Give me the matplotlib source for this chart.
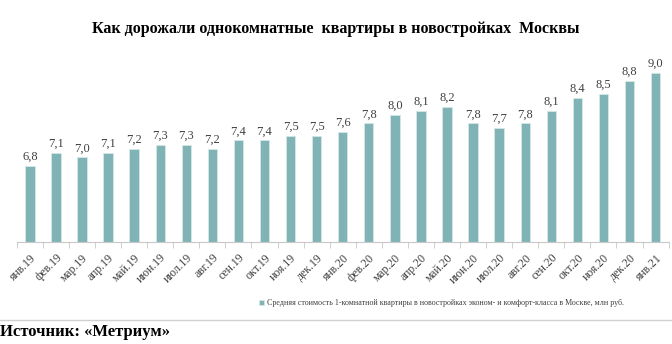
import matplotlib.pyplot as plt
import numpy as np

plt.rcParams['font.family'] = ['Liberation Serif', 'DejaVu Serif']

months = ["янв.19", "фев.19", "мар.19", "апр.19", "май.19", "июн.19", "июл.19",
          "авг.19", "сен.19", "окт.19", "ноя.19", "дек.19", "янв.20", "фев.20",
          "мар.20", "апр.20", "май.20", "июн.20", "июл.20", "авг.20", "сен.20",
          "окт.20", "ноя.20", "дек.20", "янв.21"]
prices = [6.8, 7.1, 7.0, 7.1, 7.2, 7.3, 7.3, 7.2, 7.4, 7.4, 7.5, 7.5, 7.6,
          7.8, 8.0, 8.1, 8.2, 7.8, 7.7, 7.8, 8.1, 8.4, 8.5, 8.8, 9.0]
series_name = ("Средняя стоимость 1-комнатной квартиры в новостройках "
               "эконом- и комфорт-класса в Москве, млн руб.")

fig = plt.figure(figsize=(6.72, 3.44), dpi=100)
ax = fig.add_axes([0.025, 0.2965, 0.97, 0.5255])

x = np.arange(len(months))
bars = ax.bar(x, prices, width=0.36, color="#7fb3b5", edgecolor="#d6e8e8",
              linewidth=0.6, label=series_name)
for xi, v in zip(x, prices):
    ax.text(xi, v + 0.07, f"{v:.1f}".replace(".", ","), ha="center",
            va="bottom", fontsize=9, color="#404040")

ax.set_ylim(5.0, 9.27)
ax.set_xlim(-0.5, len(months) - 0.5)
ax.set_yticks([])
for s in ["top", "right", "left"]:
    ax.spines[s].set_visible(False)
ax.spines["bottom"].set_color("#c8c8c8")
ax.set_xticks(x)
ax.set_xticklabels(months, rotation=45, ha="right", rotation_mode="anchor",
                   fontsize=8.5, color="#404040")
ax.tick_params(axis="x", which="major", length=0, pad=7)
ax.set_xticks(np.arange(-0.5, len(months), 1), minor=True)
ax.tick_params(axis="x", which="minor", length=4, color="#c8c8c8")

fig.text(0.5, 0.915, "Как дорожали однокомнатные  квартиры в новостройках  Москвы",
         ha="center", va="center", fontsize=11.5, fontweight="bold")

fig.legend(handles=[bars], labels=[series_name], loc="center",
           bbox_to_anchor=(0.657, 0.119), frameon=False, fontsize=5.8,
           handlelength=0.6, handleheight=0.6, handletextpad=0.4,
           labelcolor="#404040")

fig.add_artist(plt.Line2D([0, 1], [0.07, 0.07], color="#d0d0d0",
                          linewidth=1.0, transform=fig.transFigure))
fig.text(0.0, 0.035, "Источник: «Метриум»", ha="left", va="center",
         fontsize=12, fontweight="bold")

fig.savefig("out.png", dpi=100)
